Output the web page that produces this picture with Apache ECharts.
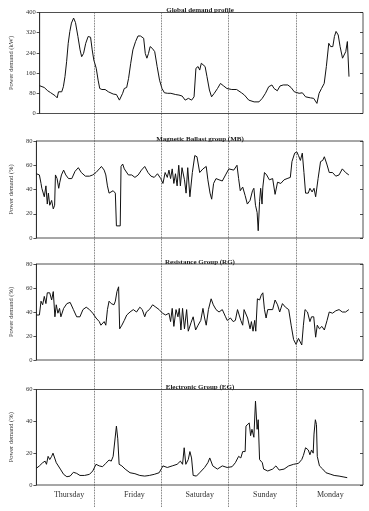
<!DOCTYPE html>
<html>
<head>
<meta charset="utf-8">
<script src="https://cdn.jsdelivr.net/npm/echarts@6/dist/echarts.min.js"></script>
<style>html,body{margin:0;padding:0;background:#fff}#c{width:369px;height:511px}</style>
</head>
<body>
<div id="c"></div>
<script>
var days = ['Thursday','Friday','Saturday','Sunday','Monday'];
var dayBreaks = [24,48,72,96];
var titles = ['Global demand profile','Magnetic Ballast group (MB)','Resistance Group (RG)','Electronic Group (EG)'];
var yNames = ['Power demand (kW)','Power demand (%)','Power demand (%)','Power demand (%)'];
var yMax = [400,80,80,60];
var yStep = [80,20,20,20];

var globalHours = [0,1.7,3,4,4.6,5.8,6.5,7,8.2,8.8,9.4,10,10.6,11.2,11.8,12.6,13.3,14.2,15,15.6,16.3,17.1,18,18.9,19.5,20.1,21,21.7,22.3,23.1,24.3,25.5,27.3,28.5,29.6,30.2,30.8,31.4,32.3,33,33.8,34.6,35.6,36.5,37.4,38,38.6,39.2,39.8,40.4,41,41.8,42.7,43.6,44.5,45.4,46.3,47.5,48.7,50.5,51.7,52.9,54,55.2,56.4,57.3,58,58.8,59.4,60,60.6,61.4,62.1,63,63.8,64.8,66,67.1,68.3,69.5,71.3,73.1,74.9,76,77.6,79.6,81.4,82.6,83.8,85,86.2,87,88.2,89.2,90.4,92.1,93.3,94.5,96.3,97.5,98.7,100.5,101.7,102.9,103.7,104.6,105.6,106.4,107.3,108,108.8,109.4,110,110.8,111.5,112.4,113,113.6,114.2,114.8,114.8];
var globalKW = [110,103,90,83,80,70,62,86,86,106,146,205,278,325,358,378,360,305,252,225,238,278,305,302,252,212,179,132,99,95,95,86,77,75,53,56,80,99,103,139,199,252,285,307,307,314,298,238,219,238,265,258,245,186,132,99,82,80,80,75,73,69,53,60,53,66,179,186,172,199,192,186,146,93,66,80,99,119,109,99,95,95,82,73,53,46,46,60,80,106,113,99,90,109,113,113,103,86,80,82,66,62,60,40,80,99,119,186,278,265,265,305,325,311,265,219,212,245,285,285,146];

var mbHours = [0,1.1,1.7,2,2.5,2.9,3.5,4,4.4,4.9,5.6,6.2,6.7,7,7.6,8.2,8.6,9.2,10,10.8,11.8,13,14.2,15.4,16.5,18,19.5,20.7,21.9,23.1,23.9,24.9,25.5,26.1,26.7,27.3,28.2,29,29.4,30,30.8,31.1,31.7,32.3,33,33.8,35,36.2,37.4,38.6,39.8,41,42.1,43.3,44.5,45.7,46.5,47.3,48.1,48.7,49.3,49.9,50.5,51.1,51.7,52.3,52.9,53.5,54.4,55,55.6,56.4,57.3,58.2,59,60,61.2,62.4,63,63.8,64.4,65.1,66,67.1,68.3,69.5,70.7,72.5,73.7,74.3,74.9,75.8,76.7,77.5,78.5,79.4,79.9,80.5,81.1,81.5,82,82.4,82.9,83.2,83.8,84.6,85.6,86.8,87.7,88.6,89.8,91,92.1,93.3,93.9,94.9,95.7,96.3,97,97.7,98.3,98.9,99.9,100.5,101.3,102,102.6,103.5,104.4,105.2,105.8,106.7,107.6,108.8,110,111.2,112.4,113.6,114.8];
var mbPct = [53,52,45,41,42,34,43,28,37,27,31,24,27,52,49,41,46,52,56,52,49,49,55,58,54,51,51,52,54,57,59,56,52,43,37,38,39,37,10,9,10,59,61,57,56,52,52,50,52,56,59,54,51,50,53,49,45,54,50,56,49,57,45,53,43,60,43,58,48,37,58,34,54,68,67,54,57,59,48,37,32,45,49,48,47,52,57,56,60,49,39,42,35,28,31,39,41,27,21,6,30,41,28,42,54,52,48,49,36,46,45,48,49,50,63,70,71,68,64,70,54,37,37,41,38,41,34,49,63,64,67,61,54,54,51,52,57,54,52];

var rgHours = [0,1.1,1.7,2.3,2.9,3.5,4,4.9,5.6,6.2,6.8,7.3,7.9,8.5,9,10,11.2,12.4,13.6,14.8,16,17.1,18.3,19.5,20.7,21.9,23.1,23.7,24.9,25.5,26.1,26.7,27.5,28.5,29,29.6,30.2,30.6,31.4,32.3,33.2,34.4,35.6,36.8,38,38.9,39.8,40.4,41.5,42.7,43.9,45.1,46.3,47.5,48.7,49.3,49.9,50.5,51.3,52,52.5,53.1,53.7,54.4,55.2,55.8,56.8,57.6,58.5,59.4,60.4,61.2,61.8,62.4,63.2,64.2,65,66,67.1,68.3,69.5,70.1,71.3,72.3,73.1,73.9,74.6,75.1,75.8,76.3,76.9,77.6,78.5,79,79.6,80.2,80.6,81.2,82,82.6,83.2,83.8,84.4,85,85.6,86.8,87.7,88.6,89.4,90.4,91.5,92.7,93.6,94.5,95.4,96.3,96.9,97.5,98.1,98.7,99.6,100.5,101.1,101.9,102.6,103.2,104,104.9,105.8,106.8,107.6,108.8,110,111.2,112.4,113.6,114.8];
var rgPct = [37.5,37.5,49,46,53,47,56,56,50,57,36,46,39,43,36,43,47,48,42,36,36,42,44,42,39,35,32,29,32,29,42,49,47,46,49,57,61,26,29,33,37.5,40,42,40,44,42,36,40,42,46,44,42,39,37.5,39,32,43,28,42,36,43,25,43,26,42,24,31,36,25,29,33,43,35,29,42,51,46,42,40,42,36,33,35,32,33,42,43,33,29,42,43,35,26,32,24,33,24,51,50,54,56,42,35,42,42,42,50,46,40,47,44,42,29,17,13,18,19,12.5,29,42,40,32,36,36,19,29,26,28,25,33,40,39,41,42,40,40,42];

var egHours = [0,1.1,2.3,3.2,3.7,4.3,4.9,5.6,6.1,6.7,7.3,8,8.8,10,11.2,12.4,13.6,14.8,16,17.7,19.5,20.7,21.9,23.1,24.3,25.5,26.7,27.5,28.2,28.8,29.4,29.9,30.4,31.4,32.6,34.4,36.2,38,39.8,41.5,43.3,45.1,46.5,48.1,49.9,51.7,52.9,53.7,54.3,54.9,55.8,56.4,57,57.6,58.8,60,61.8,63,63.7,64.8,66.5,68.3,70.1,71.9,73.1,74.3,75.1,75.8,76.7,77,77.6,78.2,78.7,79.2,79.9,80.5,81.1,81.5,82,83,83.5,85,86.8,88,89.2,91,92.7,94.5,96.3,97.5,98.1,98.9,99.9,100.5,101.1,101.7,102,102.5,102.9,103.2,104,105.2,106.4,108.2,109.4,111.2,113,114.2];
var egPct = [10.5,12,14,15,13,18,16,18,20,19,14,13.5,10,6.7,5.2,5.6,8,7.3,6,6,6.7,8.8,13,12,11.5,13.6,15.7,15,18,18,37,29,13,12,10,7.7,7.1,6,5.6,6,6.7,7.7,12,11,12,13,15,13,23.4,13,16,21,17,6,5.6,7.7,11,14,17,12,10,12,11,11.5,14,18,17,21,21,37,38,39,31,35,30,52.7,35,41,16,14,10,8.8,10,12,9.4,10,12,13,13.6,16,18.6,23.4,22,19,22,20,32,41,38,18,12,10,7.7,6.7,6,5.6,5,4.6];

var seriesHours = [globalHours, mbHours, rgHours, egHours];
var seriesVals = [globalKW, mbPct, rgPct, egPct];

var FONT = '"Liberation Serif", "DejaVu Serif", serif';
var gridTops = [12.5, 141, 264, 389.5];
var gridHeights = [101, 97, 96, 95.5];
var LEFT = 27, WIDTH = 336;

var grids = [], xAxes = [], yAxes = [], series = [], titleArr = [];
for (var i = 0; i < 4; i++) {
  grids.push({left: LEFT, width: WIDTH, top: gridTops[i], height: gridHeights[i], show: true, borderColor: '#222', borderWidth: 0.8, backgroundColor: 'transparent'});
  xAxes.push({type: 'value', gridIndex: i, min: 0, max: 120, interval: 24,
    axisLine: {show: false}, axisTick: {show: false}, axisLabel: {show: false}, splitLine: {show: false}});
  yAxes.push({type: 'value', gridIndex: i, min: 0, max: yMax[i], interval: yStep[i], position: 'left',
    name: yNames[i], nameLocation: 'middle', nameGap: 17,
    nameTextStyle: {fontFamily: FONT, fontSize: 6.5, color: '#333'},
    axisLine: {show: true, lineStyle: {color: '#222', width: 0.8}},
    axisTick: {show: true, inside: false, length: 3, lineStyle: {color: '#222', width: 0.8}},
    axisLabel: {fontFamily: FONT, fontSize: 6.5, color: '#333', margin: 4},
    splitLine: {show: false}});
  yAxes.push({type: 'value', gridIndex: i, min: 0, max: yMax[i], interval: yStep[i], position: 'right',
    axisLine: {show: false}, axisTick: {show: true, inside: true, length: 3, lineStyle: {color: '#222', width: 0.8}},
    axisLabel: {show: false}, splitLine: {show: false}});
  var hrs = seriesHours[i], vals = seriesVals[i];
  series.push({type: 'line', xAxisIndex: i, yAxisIndex: i * 2, showSymbol: false, symbol: 'none',
    lineStyle: {color: '#111', width: 1},
    data: hrs.map(function (h, k) { return [h, vals[k]]; })});
  titleArr.push({text: titles[i], left: LEFT + WIDTH / 2, textAlign: 'center', top: gridTops[i] - 10.5,
    textStyle: {fontFamily: FONT, fontSize: 7, fontWeight: 'bold', color: '#222'}});
}
// day labels axis on the bottom panel
xAxes.push({type: 'category', gridIndex: 3, data: days, boundaryGap: true, position: 'bottom',
  axisLine: {show: false}, axisTick: {show: false},
  axisLabel: {fontFamily: FONT, fontSize: 8, color: '#333', margin: 6}});
// overlay grid for day separators spanning all panels
grids.push({left: LEFT, width: WIDTH, top: 12.5, height: 494.5, show: false});
xAxes.push({type: 'value', gridIndex: 4, min: 0, max: 120, show: false});
yAxes.push({type: 'value', gridIndex: 4, min: 0, max: 1, show: false});
series.push({type: 'line', xAxisIndex: 5, yAxisIndex: 8, data: [[0, 0]], symbol: 'none', lineStyle: {opacity: 0},
  silent: true,
  markLine: {symbol: ['none', 'none'], silent: true, label: {show: false},
    lineStyle: {color: '#444', type: 'dotted', width: 0.8},
    data: dayBreaks.map(function (d) { return {xAxis: d}; })}});

var chart = echarts.init(document.getElementById('c'), null, {renderer: 'canvas'});
chart.setOption({animation: false, backgroundColor: '#fff', title: titleArr, grid: grids, xAxis: xAxes, yAxis: yAxes, series: series});
</script>
</body>
</html>
